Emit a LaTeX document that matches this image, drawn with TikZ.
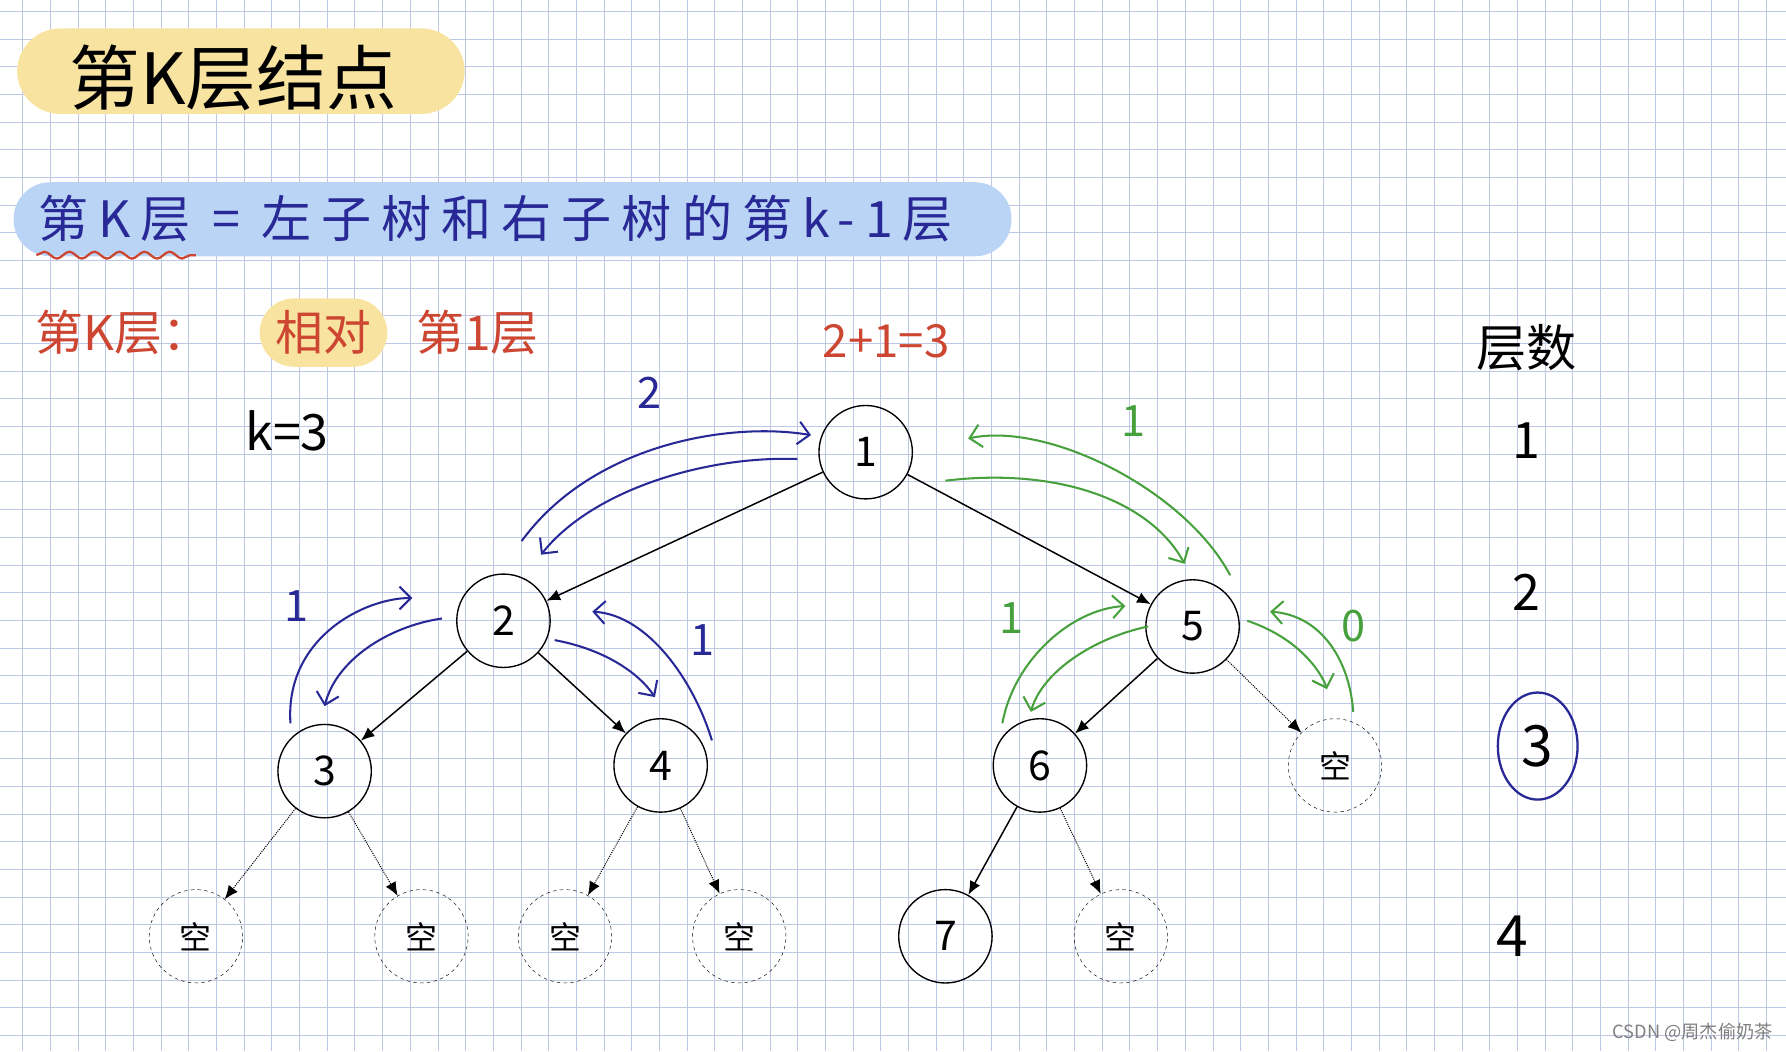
\documentclass[tikz,border=0pt]{standalone}
\usepackage{fontspec}
\setmainfont{Noto Sans CJK SC}
\usetikzlibrary{decorations.pathmorphing,arrows.meta}
\definecolor{gridc}{RGB}{190,200,230}
\definecolor{hb}{RGB}{40,40,150}
\definecolor{hr}{RGB}{205,70,50}
\definecolor{hg}{RGB}{70,160,60}
\definecolor{hy}{RGB}{248,228,160}
\definecolor{hbl}{RGB}{185,212,245}
\tikzset{
 tn/.style={circle,draw,line width=1.2pt,minimum size=82pt,inner sep=0pt,font=\fontsize{36}{36}\selectfont},
 en/.style={circle,draw,dashed,minimum size=82pt,inner sep=0pt,font=\fontsize{28}{28}\selectfont},
 se/.style={-{Latex[length=12pt,width=10pt]},line width=1.3pt},
 de/.style={-{Latex[length=12pt,width=10pt]},densely dotted,line width=0.9pt},
 ba/.style={-{Straight Barb[length=10pt]},line width=1.8pt,hb},
 ga/.style={-{Straight Barb[length=10pt]},line width=1.8pt,hg},
 big/.style={font=\fontsize{#1}{#1}\selectfont}
}
\begin{document}
\begin{tikzpicture}[x=1pt,y=-1pt]
\useasboundingbox (0,0) rectangle (1568,923);
\fill[white] (0,0) rectangle (1568,923);
\foreach \i in {0,...,65} \draw[gridc,line width=0.8pt] (\i*24.3+20,0) -- (\i*24.3+20,923);
\foreach \j in {0,...,38} \draw[gridc,line width=0.8pt] (0,\j*24.3+10) -- (1568,\j*24.3+10);
% title
\fill[hy,rounded corners=38pt] (15,25) rectangle (408,100);
\node[big=62] (title) at (205,68) {第K层结点};
\fill[hbl,rounded corners=32pt] (12,160) rectangle (888,225);
\node[big=44,text=hb,anchor=west] (rule) at (30,192) {\addfontfeatures{LetterSpace=20}第K层 = 左子树和右子树的第k-1层};
\draw[hr,line width=2pt,decorate,decoration={snake,amplitude=3pt,segment length=22pt}] (32,224) -- (172,224);
\fill[hy,rounded corners=30pt] (228,262) rectangle (340,322);
\node[big=42,text=hr,anchor=west] (rel) at (28,292) {第K层：};
\node[big=42,text=hr] (rel2) at (284,292) {相对};
\node[big=42,text=hr,anchor=west] (rel3) at (362,292) {第1层};
\node[big=40,text=hr] (sum) at (778,300) {2+1=3};
\node[big=44] (k) at (252,378) {k=3};
% tree
\node[tn] (n1) at (760,397) {1};
\node[tn] (n2) at (442,545) {2};
\node[tn] (n3) at (285,677) {3};
\node[tn] (n4) at (580,672) {4};
\node[tn] (n5) at (1047,550) {5};
\node[tn] (n6) at (913,672) {6};
\node[en] (e5) at (1172,672) {空};
\node[en] (e1) at (172,822) {空};
\node[en] (e2) at (370,822) {空};
\node[en] (e3) at (496,822) {空};
\node[en] (e4) at (649,822) {空};
\node[tn] (n7) at (830,822) {7};
\node[en] (e6) at (984,822) {空};
\draw[se] (n1) -- (n2); \draw[se] (n1) -- (n5);
\draw[se] (n2) -- (n3); \draw[se] (n2) -- (n4);
\draw[se] (n5) -- (n6); \draw[de] (n5) -- (e5);
\draw[de] (n3) -- (e1); \draw[de] (n3) -- (e2);
\draw[de] (n4) -- (e3); \draw[de] (n4) -- (e4);
\draw[se] (n6) -- (n7); \draw[de] (n6) -- (e6);
% arcs
\draw[ba] (458,475) .. controls (520,390) and (640,370) .. (712,382);
\draw[ba] (700,403) .. controls (620,400) and (520,430) .. (475,487);
\draw[ga] (1080,505) .. controls (1040,430) and (920,370) .. (850,385);
\draw[ga] (830,422) .. controls (930,410) and (1010,440) .. (1040,495);
\draw[ba] (255,635) .. controls (250,560) and (320,525) .. (362,525);
\draw[ba] (388,543) .. controls (340,550) and (295,580) .. (285,620);
\draw[ba] (487,562) .. controls (530,570) and (560,590) .. (575,612);
\draw[ba] (625,650) .. controls (610,600) and (570,540) .. (520,537);
\draw[ga] (880,635) .. controls (890,580) and (940,535) .. (988,532);
\draw[ga] (1008,550) .. controls (960,560) and (915,590) .. (905,625);
\draw[ga] (1095,545) .. controls (1140,560) and (1160,590) .. (1165,605);
\draw[ga] (1188,625) .. controls (1185,580) and (1160,540) .. (1115,537);
\node[big=38,text=hb] (l2) at (570,345) {2};
\node[big=38,text=hg] (lg1) at (995,370) {1};
\node[big=38,text=hb] (lb1) at (260,532) {1};
\node[big=38,text=hb] (lb2) at (617,562) {1};
\node[big=38,text=hg] (lg2) at (888,543) {1};
\node[big=38,text=hg] (lg0) at (1188,550) {0};
% levels
\node[big=44] (lv) at (1340,305) {层数};
\node[big=44] (v1) at (1340,387) {1};
\node[big=44] (v2) at (1340,520) {2};
\node[big=50] (v3) at (1350,655) {3};
\draw[hb,line width=2pt] (1350,655) ellipse (35pt and 47pt);
\node[big=50] (v4) at (1328,822) {4};
\node[big=16,text=gray,anchor=east] (wm) at (1560,906) {CSDN @周杰偷奶茶};
\end{tikzpicture}
\end{document}
